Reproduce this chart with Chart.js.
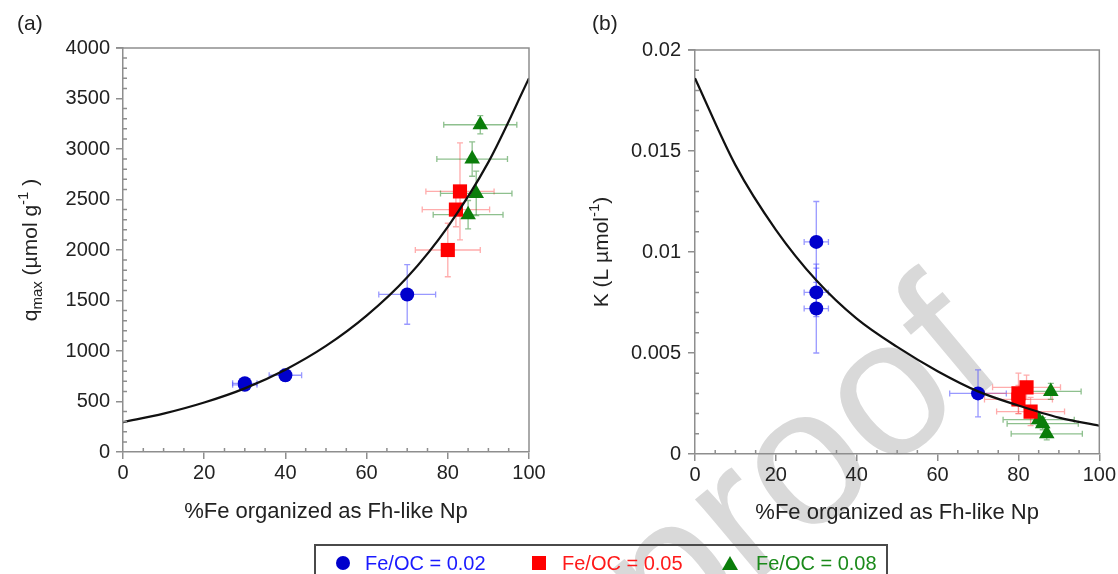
<!DOCTYPE html>
<html lang="en">
<head>
  <meta charset="UTF-8">
  <title>qmax and K vs %Fe organized as Fh-like Np</title>
  <script src="https://cdn.jsdelivr.net/npm/chart.js"></script>
  <style>
    body { margin: 0; background: #fff; }
    #wrap { position: relative; width: 1118px; height: 574px; overflow: hidden; font-family: "Liberation Sans", Arial, sans-serif; }
    #wm { position: absolute; left: 795px; top: 462px; transform: translate(-50%, -50%) rotate(-40deg);
          font-size: 195px; line-height: 1; color: #d9d9d9; white-space: nowrap; }
    .pane { position: absolute; top: 0; width: 559px; height: 574px; }
    #legend { position: absolute; left: 314px; top: 544px; width: 570px; height: 50px; border: 2px solid #4a4a4a; }
    .lg { position: absolute; font-size: 20px; line-height: 20px; top: 553px; white-space: nowrap; }
    .mk { position: absolute; }
  </style>
</head>
<body>
<div id="wrap">
  <div id="wm">proof</div>
  <div class="pane" style="left:0"><canvas id="chartA" width="559" height="574"></canvas></div>
  <div class="pane" style="left:559px"><canvas id="chartB" width="559" height="574"></canvas></div>
  <div id="legend"></div>
  <div class="mk" style="left:336px;top:556px;width:14px;height:14px;border-radius:50%;background:#0000cc"></div>
  <span class="lg" style="left:365px;color:#1a1aff">Fe/OC = 0.02</span>
  <div class="mk" style="left:532px;top:556px;width:14px;height:14px;background:#ff0000"></div>
  <span class="lg" style="left:562px;color:#ff1a1a">Fe/OC = 0.05</span>
  <div class="mk" style="left:722px;top:556px;width:0;height:0;border-left:8px solid transparent;border-right:8px solid transparent;border-bottom:14px solid #0a7d0a"></div>
  <span class="lg" style="left:756px;color:#1a8a1a">Fe/OC = 0.08</span>
</div>

<script>
// fitted curves
const fePct  = [0, 10, 20, 30, 40, 50, 60, 70, 80, 90, 100];
const qmaxFit = [295, 380, 490, 630, 815, 1050, 1350, 1730, 2230, 2870, 3700];
const kFit    = [0.0186, 0.0143, 0.0111, 0.0086, 0.0067, 0.0053, 0.0041, 0.0031, 0.0024, 0.0018, 0.0014];

// panel (a) qmax
const aBlueX = [30, 30, 40, 70];
const aBlueQ = [665, 680, 760, 1560];
const aBlueXErr = [3, 3, 4, 7];
const aBlueQErr = [40, 40, 60, 295];

const aRedX = [80, 82, 83];
const aRedQ = [2000, 2400, 2580];
const aRedXErr = [8, 8.3, 8.4];
const aRedQErr = [265, 170, 480];

const aGreenX = [85, 86, 87, 88];
const aGreenQ = [2350, 2900, 2560, 3240];
const aGreenXErr = [8.6, 8.7, 8.8, 9];
const aGreenQErr = [140, 170, 220, 90];

// panel (b) K
const bBlueX = [30, 30, 30, 70];
const bBlueK = [0.0105, 0.0080, 0.0072, 0.0030];
const bBlueXErr = [3, 3, 3, 7];
const bBlueKErr = [0.002, 0.0012, 0.0022, 0.00116];

const bRedX = [80, 80, 82, 83];
const bRedK = [0.0030, 0.0027, 0.0033, 0.0021];
const bRedXErr = [8.4, 8.4, 8.4, 8.4];
const bRedKErr = [0.001, 0.0007, 0.0006, 0.0007];

const bGreenX = [88, 85, 86, 87];
const bGreenK = [0.0031, 0.0017, 0.0015, 0.0010];
const bGreenXErr = [7.5, 8.8, 8.8, 8.8];
const bGreenKErr = [0.0004, 0.0003, 0.0003, 0.0003];

const xTicks = [0, 20, 40, 60, 80, 100];
const qTicks = [0, 500, 1000, 1500, 2000, 2500, 3000, 3500, 4000];
const kTicks = [0, 0.005, 0.01, 0.015, 0.02];

const FONT = '"Liberation Sans", Arial, sans-serif';
const AXIS = '#8e8e8e';

function pts(xs, ys) {
  return xs.map((x, i) => ({ x: x, y: ys[i] }));
}

function markerSet(label, xs, ys, xe, ye, shape, color, errColor, r) {
  return {
    label: label, data: pts(xs, ys), xErr: xe, yErr: ye, errColor: errColor,
    pointStyle: shape, pointRadius: r, pointHoverRadius: r,
    backgroundColor: color, borderColor: color, pointBorderWidth: 0, showLine: false
  };
}

// error bars, top/right frame, minor ticks and axis titles
function makeDeco(opt) {
  return {
    id: 'deco',
    beforeDatasetsDraw(chart) {
      const ctx = chart.ctx, xs = chart.scales.x, ys = chart.scales.y;
      ctx.save();
      ctx.lineWidth = 1.3;
      chart.data.datasets.forEach(ds => {
        if (!ds.xErr) return;
        ctx.strokeStyle = ds.errColor;
        ds.data.forEach((p, i) => {
          const px = xs.getPixelForValue(p.x), py = ys.getPixelForValue(p.y);
          const x0 = xs.getPixelForValue(p.x - ds.xErr[i]), x1 = xs.getPixelForValue(p.x + ds.xErr[i]);
          const y0 = ys.getPixelForValue(p.y - ds.yErr[i]), y1 = ys.getPixelForValue(p.y + ds.yErr[i]);
          ctx.beginPath();
          ctx.moveTo(x0, py); ctx.lineTo(x1, py);
          ctx.moveTo(x0, py - 3); ctx.lineTo(x0, py + 3);
          ctx.moveTo(x1, py - 3); ctx.lineTo(x1, py + 3);
          ctx.moveTo(px, y0); ctx.lineTo(px, y1);
          ctx.moveTo(px - 3, y0); ctx.lineTo(px + 3, y0);
          ctx.moveTo(px - 3, y1); ctx.lineTo(px + 3, y1);
          ctx.stroke();
        });
      });
      ctx.restore();
    },
    afterDraw(chart) {
      const ctx = chart.ctx, a = chart.chartArea, xs = chart.scales.x, ys = chart.scales.y;
      ctx.save();
      ctx.strokeStyle = AXIS;
      ctx.lineWidth = 1.5;
      ctx.beginPath();
      ctx.moveTo(a.left - 7, a.top); ctx.lineTo(a.right, a.top); ctx.lineTo(a.right, a.bottom);
      for (let v = xs.min; v <= xs.max; v += 5) {
        if (v % 20 === 0) continue;
        const px = xs.getPixelForValue(v);
        ctx.moveTo(px, a.bottom); ctx.lineTo(px, a.bottom - 4);
      }
      const n = Math.round((ys.max - ys.min) / opt.minorY);
      for (let i = 1; i < n; i++) {
        if (i % 5 === 0) continue;
        const py = ys.getPixelForValue(ys.min + i * opt.minorY);
        ctx.moveTo(a.left, py); ctx.lineTo(a.left + 4, py);
      }
      ctx.stroke();

      ctx.fillStyle = '#222';
      ctx.font = '21px ' + FONT;
      ctx.textBaseline = 'middle';
      ctx.textAlign = 'left';
      ctx.fillText(opt.panel, opt.panelX, 24);

      ctx.font = '22px ' + FONT;
      ctx.textAlign = 'center';
      ctx.fillText('%Fe organized as Fh-like Np', (a.left + a.right) / 2, opt.xTitleY);

      // rotated y title with sub/superscripts
      ctx.translate(opt.yTitleX, opt.yTitleY);
      ctx.rotate(-Math.PI / 2);
      ctx.textAlign = 'left';
      ctx.textBaseline = 'alphabetic';
      let total = 0;
      opt.yTitle.forEach(p => { ctx.font = p.size + 'px ' + FONT; total += ctx.measureText(p.t).width; });
      let x = -total / 2;
      opt.yTitle.forEach(p => {
        ctx.font = p.size + 'px ' + FONT;
        ctx.fillText(p.t, x, p.dy || 0);
        x += ctx.measureText(p.t).width;
      });
      ctx.restore();
    }
  };
}

function axisOpts(min, max, step, ticks, pad, fmt) {
  return {
    type: 'linear', min: min, max: max,
    afterBuildTicks: s => { s.ticks = ticks.map(v => ({ value: v })); },
    ticks: { stepSize: step, color: '#222', font: { family: FONT, size: 20 }, padding: pad, callback: fmt },
    grid: { drawOnChartArea: false, drawTicks: true, tickLength: 7, color: AXIS, lineWidth: 1.5 },
    border: { display: true, color: AXIS, width: 1.5 }
  };
}

function makeChart(id, cfg) {
  const x = axisOpts(0, 100, 20, xTicks, 2, v => v);
  x.afterFit = s => { s.height = cfg.xHeight; };
  const y = axisOpts(0, cfg.yMax, cfg.yStep, cfg.yTicks, cfg.yPad, cfg.yFmt);
  y.afterFit = s => { s.width = cfg.yWidth; };

  return new Chart(document.getElementById(id), {
    type: 'scatter',
    data: {
      datasets: [
        { label: 'fit', data: pts(fePct, cfg.fit), showLine: true, borderColor: '#111', borderWidth: 2.2,
          pointRadius: 0, cubicInterpolationMode: 'monotone', fill: false },
        markerSet('Fe/OC = 0.02', cfg.blue[0], cfg.blue[1], cfg.blue[2], cfg.blue[3], 'circle', '#0000cc', 'rgba(70,70,255,0.55)', 7),
        markerSet('Fe/OC = 0.05', cfg.red[0], cfg.red[1], cfg.red[2], cfg.red[3], 'rect', '#ff0000', 'rgba(255,90,90,0.5)', 10),
        markerSet('Fe/OC = 0.08', cfg.green[0], cfg.green[1], cfg.green[2], cfg.green[3], 'triangle', '#0a7d0a', 'rgba(30,130,30,0.5)', 9)
      ]
    },
    options: {
      responsive: false, animation: false,
      layout: { padding: { left: 0, top: cfg.top, right: cfg.right, bottom: 0 } },
      scales: { x: x, y: y },
      plugins: { legend: { display: false }, tooltip: { enabled: false } }
    },
    plugins: [makeDeco(cfg.deco)]
  });
}

makeChart('chartA', {
  fit: qmaxFit, yMax: 4000, yStep: 500, yTicks: qTicks, yPad: 6, yFmt: v => v,
  yWidth: 123, xHeight: 122, top: 48, right: 30,
  blue: [aBlueX, aBlueQ, aBlueXErr, aBlueQErr],
  red: [aRedX, aRedQ, aRedXErr, aRedQErr],
  green: [aGreenX, aGreenQ, aGreenXErr, aGreenQErr],
  deco: {
    panel: '(a)', panelX: 17, xTitleY: 512, minorY: 100, yTitleX: 37, yTitleY: 250,
    yTitle: [{ t: 'q', size: 21 }, { t: 'max', size: 15, dy: 5 }, { t: ' (µmol g', size: 21 },
             { t: '-1', size: 15, dy: -9 }, { t: ' )', size: 21 }]
  }
});

makeChart('chartB', {
  fit: kFit, yMax: 0.02, yStep: 0.005, yTicks: kTicks, yPad: 7, yFmt: v => String(+v.toFixed(3)),
  yWidth: 136, xHeight: 120, top: 50, right: 16,
  blue: [bBlueX, bBlueK, bBlueXErr, bBlueKErr],
  red: [bRedX, bRedK, bRedXErr, bRedKErr],
  green: [bGreenX, bGreenK, bGreenXErr, bGreenKErr],
  deco: {
    panel: '(b)', panelX: 33, xTitleY: 513, minorY: 0.001, yTitleX: 49, yTitleY: 252,
    yTitle: [{ t: 'K (L µmol', size: 21 }, { t: '-1', size: 15, dy: -9 }, { t: ')', size: 21 }]
  }
});
</script>
</body>
</html>
